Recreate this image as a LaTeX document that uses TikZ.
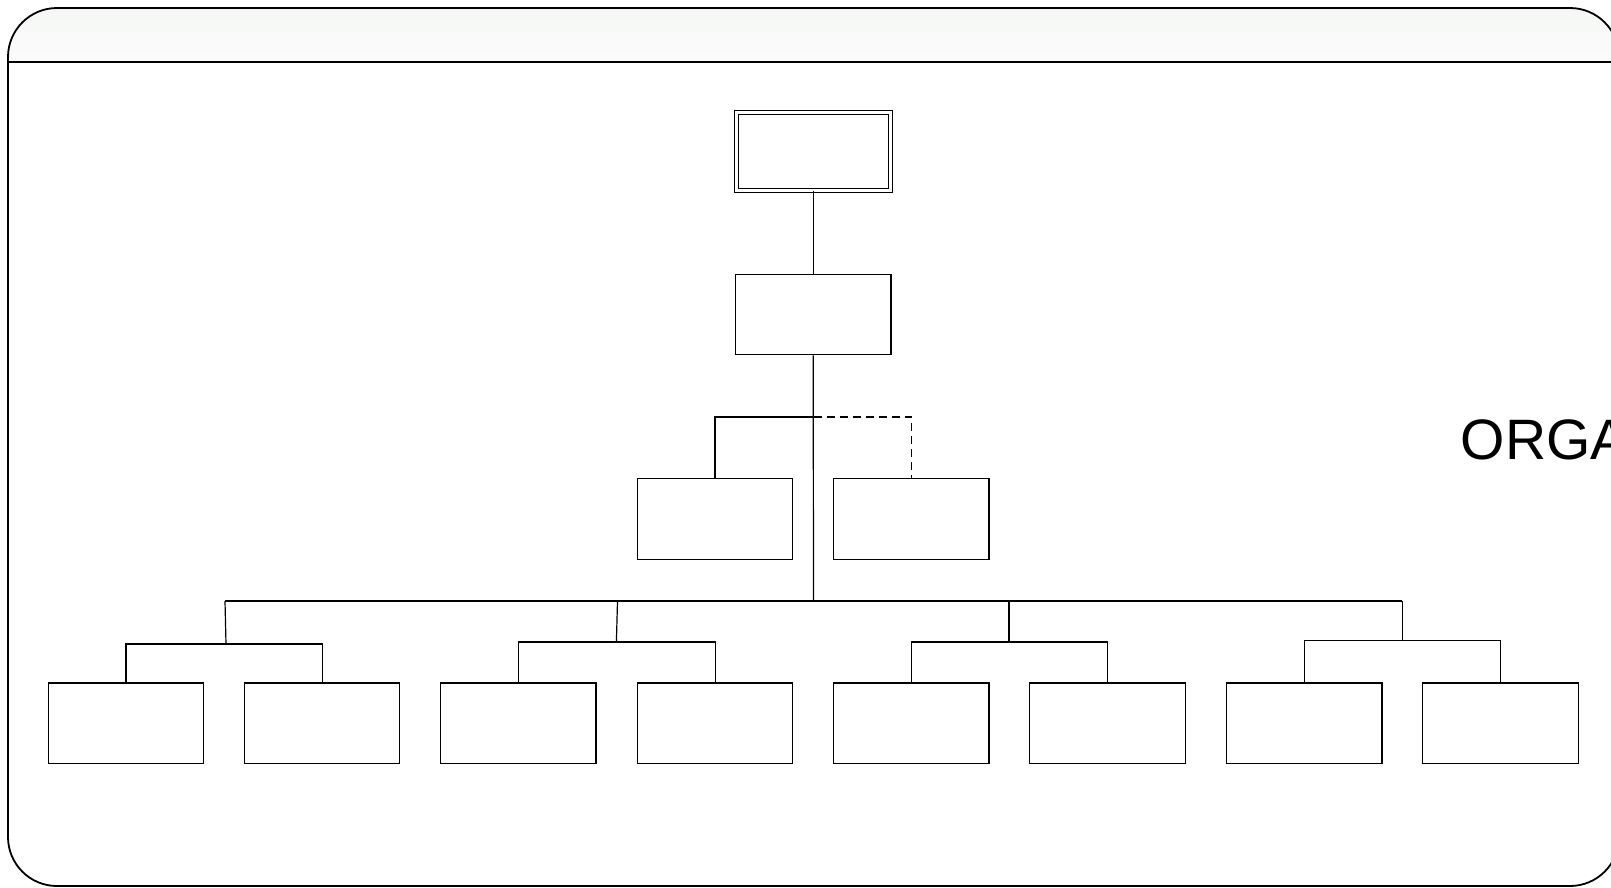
\documentclass[tikz,border=0pt]{standalone}
\usepackage{fontspec}
\setmainfont{Liberation Sans}
\begin{document}
\begin{tikzpicture}[x=1pt,y=-1pt,
  box/.style={draw, line width=1.2pt, minimum width=155.5pt, minimum height=80.5pt, inner sep=0pt},
  topbox/.style={draw, line width=1.1pt, double=white, double distance=2.6pt, minimum width=154pt, minimum height=78pt, inner sep=0pt},
  conn/.style={line width=1.2pt},
  dconn/.style={line width=1.2pt, dash pattern=on 8pt off 5pt},
  frame/.style={line width=1.8pt}]
\useasboundingbox (0,0) rectangle (1611,887);
\clip (0,0) rectangle (1611,887);
% header shading
\begin{scope}
  \clip[rounded corners=49pt] (8,886) -- (8,8) -- (1619,8) -- (1619,886) -- cycle;
  \shade[top color=black!4!green!1!white!94!gray, bottom color=white!97!gray] (0,8) rectangle (1625,62);
\end{scope}
\draw[frame, rounded corners=49pt] (8,886) -- (8,8) -- (1619,8) -- (1619,886) -- cycle;
\draw[frame] (8,62) -- (1619,62);
% title text
\node[anchor=base west, inner sep=0pt, font=\fontsize{57}{60}\selectfont] (title) at (1460.5,459) {ORGA};
% boxes
\node[topbox] (top) at (813.2,151.3) {};
\node[box] (b2) at (813.2,314.4) {};
\node[box] (l3a) at (715,518.9) {};
\node[box] (l3b) at (911.2,518.9) {};
\foreach \n/\x in {1/125.9,2/322.1,3/518.3,4/715.1,5/911.3,6/1107.6,7/1304.3,8/1500.5}
  \node[box] (c\n) at (\x,723.3) {};
% coordinates
\coordinate (br) at (813.5,417);
\coordinate (bus) at (813.5,601);
\coordinate (busL) at (225,601);
\coordinate (busR) at (1402.4,601);
\coordinate (g1) at (226,644);
\coordinate (g2) at (616.4,642);
\coordinate (g3) at (1009,642);
\coordinate (g4) at (1402.4,640.5);
% connectors
\draw[conn] (top.south) -- (b2.north);
\draw[conn] (b2.south) -- (bus);
\draw[conn] (br) -| (l3a.north);
\draw[dconn] (br) -| (l3b.north);
\draw[conn] (busL) -- (busR);
\draw[conn] (busL) -- (g1);
\draw[conn] (617.5,601) -- (g2);
\draw[conn] (1009,601) -- (g3);
\draw[conn] (busR) -- (g4);
\draw[conn] (c1.north) |- (g1) -| (c2.north);
\draw[conn] (c3.north) |- (g2) -| (c4.north);
\draw[conn] (c5.north) |- (g3) -| (c6.north);
\draw[conn] (c7.north) |- (g4) -| (c8.north);
\end{tikzpicture}
\end{document}
